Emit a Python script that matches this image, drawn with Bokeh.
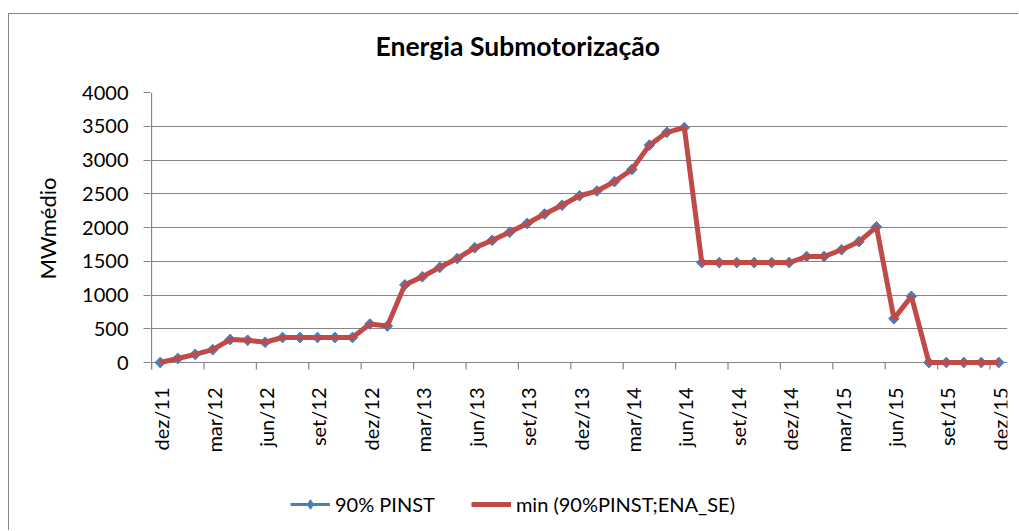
from math import pi
from bokeh.plotting import figure
from bokeh.models import Range1d, FixedTicker, Legend, LegendItem, ColumnDataSource, Title
from bokeh.core.properties import value
from bokeh.embed import file_html
from bokeh.resources import INLINE

# ---- data ----
months = ["dez/11", "jan/12", "fev/12", "mar/12", "abr/12", "mai/12", "jun/12", "jul/12",
          "ago/12", "set/12", "out/12", "nov/12", "dez/12", "jan/13", "fev/13", "mar/13",
          "abr/13", "mai/13", "jun/13", "jul/13", "ago/13", "set/13", "out/13", "nov/13",
          "dez/13", "jan/14", "fev/14", "mar/14", "abr/14", "mai/14", "jun/14", "jul/14",
          "ago/14", "set/14", "out/14", "nov/14", "dez/14", "jan/15", "fev/15", "mar/15",
          "abr/15", "mai/15", "jun/15", "jul/15", "ago/15", "set/15", "out/15", "nov/15",
          "dez/15"]
pinst90 = [0, 60, 120, 190, 340, 330, 300, 370, 370, 370, 370, 370,
           570, 540, 1150, 1270, 1410, 1540, 1700, 1810, 1930, 2060, 2200, 2330,
           2470, 2540, 2680, 2860, 3220, 3410, 3480, 1480, 1480, 1480, 1480, 1480,
           1480, 1570, 1570, 1670, 1790, 2010, 650, 980, 0, 0, 0, 0, 0]
min_pinst_ena = [0, 60, 120, 190, 340, 330, 300, 370, 370, 370, 370, 370,
                 570, 540, 1150, 1270, 1410, 1540, 1700, 1810, 1930, 2060, 2200, 2330,
                 2470, 2540, 2680, 2860, 3220, 3410, 3480, 1480, 1480, 1480, 1480, 1480,
                 1480, 1570, 1570, 1670, 1790, 2010, 650, 980, 0, 0, 0, 0, 0]
y_ticks = [0, 500, 1000, 1500, 2000, 2500, 3000, 3500, 4000]
title_text = "Energia Submotorização"
y_label = "MWmédio"
series_names = ["90% PINST", "min (90%PINST;ENA_SE)"]

BLUE = "#4A7EBB"
RED = "#BE4B48"
GRID = "#868686"
FONT = "Lato"

# layout constants (pixels)
FIG_W, FIG_H = 1010, 530
B_LEFT, B_RIGHT, B_TOP, B_BOTTOM = 142, 11, 92, 10
Y_MAX = 4000
PX_PER_UNIT = 270.0 / Y_MAX                # 4000 -> 270 px
frame_h = FIG_H - B_TOP - B_BOTTOM
y_min = Y_MAX - frame_h / PX_PER_UNIT       # frame extends below zero for labels/legend
TICK_LEN = 7 / PX_PER_UNIT

idx = list(range(len(months)))
src = ColumnDataSource(dict(x=idx, a=pinst90, b=min_pinst_ena))

p = figure(width=FIG_W, height=FIG_H,
           x_range=Range1d(-0.56, len(months) - 0.5),
           y_range=Range1d(y_min, Y_MAX),
           output_backend="svg", toolbar_location=None,
           min_border_left=B_LEFT, min_border_right=B_RIGHT,
           min_border_top=B_TOP, min_border_bottom=B_BOTTOM)
p.margin = (0, 0, 0, 8)
p.styles = {"background": "linear-gradient(#868686,#868686) 0 13px / 100% 1px no-repeat, "
                          "linear-gradient(#868686,#868686) 0 13px / 1px 100% no-repeat"}
p.border_fill_color = None
p.background_fill_color = None
p.outline_line_color = None

# y grid
p.ygrid.ticker = FixedTicker(ticks=y_ticks)
p.ygrid.grid_line_color = GRID
p.ygrid.grid_line_width = 1.2
p.xgrid.grid_line_color = None

# category axis drawn inside the frame (ticks between categories, labels every 3)
label_pos = idx[::3]
bounds = [i - 0.5 for i in label_pos]
p.segment(x0=bounds, y0=[0] * len(bounds), x1=bounds, y1=[-TICK_LEN] * len(bounds),
          line_color=GRID, line_width=1.2)
p.segment(x0=[-0.5], y0=[-TICK_LEN], x1=[-0.5], y1=[Y_MAX],
          line_color=GRID, line_width=1.2)
p.text(x=label_pos, y=[0] * len(label_pos), text=[months[i] for i in label_pos],
       angle=pi / 2, text_align="right", text_baseline="middle",
       x_offset=1, y_offset=25,
       text_font=value(FONT), text_font_size="20px", text_color="black")
p.xaxis.visible = False

# series
bl = p.line("x", "a", source=src, line_color=BLUE, line_width=3)
# diamond key (hidden under the rotated squares, used for the legend symbol)
bm_key = p.scatter("x", "a", source=src, marker="diamond", size=10,
                   fill_color=BLUE, line_color=BLUE)
bm = p.scatter("x", "a", source=src, marker="square", angle=pi / 4, size=7.5,
               fill_color=BLUE, line_color=BLUE)
rl = p.line("x", "b", source=src, line_color=RED, line_width=5)

# y axis
p.yaxis.ticker = FixedTicker(ticks=y_ticks)
p.yaxis.minor_tick_line_color = None
p.yaxis.major_tick_in = 0
p.yaxis.major_tick_out = 7
p.yaxis.major_tick_line_color = GRID
p.yaxis.axis_line_color = None
p.yaxis.major_label_standoff = 15
p.yaxis.major_label_text_font = FONT
p.yaxis.major_label_text_font_size = "20px"
p.yaxis.major_label_text_color = "black"

# y axis title (left panel, placed alongside the value area)
p.add_layout(Title(text=y_label, align="right", offset=85, vertical_align="middle",
                   standoff=35, text_font=FONT, text_font_size="22px",
                   text_font_style="normal", text_color="black"), "left")

# chart title (above panel)
p.title.text = title_text
p.title.align = "left"
p.title.offset = 225
p.title.vertical_align = "top"
p.title.standoff = 57
p.title.text_font = FONT
p.title.text_font_style = "bold"
p.title.text_font_size = "26.5px"
p.title.text_color = "black"

# legend inside the (extended) frame
legend = Legend(items=[LegendItem(label=series_names[0], renderers=[bl, bm_key]),
                       LegendItem(label=series_names[1], renderers=[rl])],
                location=(140, 4), orientation="horizontal",
                border_line_color=None, background_fill_alpha=0,
                padding=0, margin=0, glyph_width=40, glyph_height=24,
                label_standoff=5, spacing=36,
                label_text_font=FONT, label_text_font_size="20px",
                label_text_color="black")
p.add_layout(legend)

open("out.html", "w").write(file_html(p, INLINE))
